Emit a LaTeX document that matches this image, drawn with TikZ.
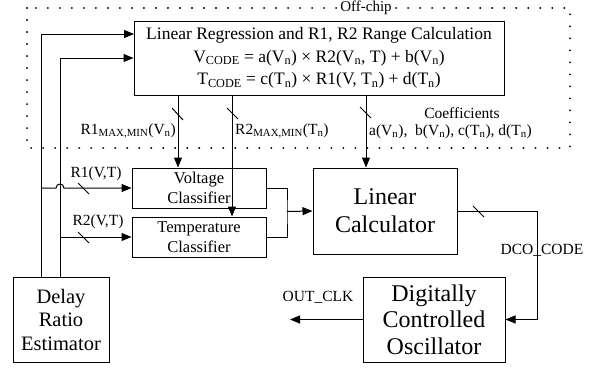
\documentclass[tikz,border=0pt]{standalone}
\usepackage{fontspec}
\setmainfont{Liberation Serif}
\usetikzlibrary{arrows.meta}
\begin{document}
\begin{tikzpicture}[x=1pt,y=-1pt,
  box/.style={draw,line width=1pt,inner sep=0pt,align=center},
  arr/.style={line width=1pt,-{Triangle[length=10pt,width=8pt]}},
  ln/.style={line width=1pt},
  tick/.style={line width=1pt},
  dotline/.style={line width=2.2pt,dash pattern=on 0.01pt off 12pt,line cap=round},
  lbl/.style={inner sep=0pt,font=\fontsize{15.5}{18}\selectfont}]
\useasboundingbox (0,0) rectangle (602,367);
% off-chip region
\draw[dotline] (27,8) rectangle (570,148);
\node[fill=white,inner sep=2pt,font=\fontsize{15}{18}\selectfont] (offchip) at (366,8) {Off-chip};
% blocks
\node[box,minimum width=370pt,minimum height=74pt,font=\fontsize{17.5}{22.5}\selectfont] (lr) at (319,58)
  {Linear Regression and R1, R2 Range Calculation\\
   V\textsubscript{CODE} = a(V\textsubscript{n}) × R2(V\textsubscript{n}, T) + b(V\textsubscript{n})\\
   T\textsubscript{CODE} = c(T\textsubscript{n}) × R1(V, T\textsubscript{n}) + d(T\textsubscript{n})};
\node[box,minimum width=134pt,minimum height=40pt,font=\fontsize{16.5}{20}\selectfont] (vc) at (199,188) {Voltage\\Classifier};
\node[box,minimum width=134pt,minimum height=40pt,font=\fontsize{16.5}{20}\selectfont] (tc) at (199,237) {Temperature\\Classifier};
\node[box,minimum width=144pt,minimum height=86pt,font=\fontsize{24}{28}\selectfont] (lc) at (385,211) {Linear\\Calculator};
\node[box,minimum width=96pt,minimum height=85pt,font=\fontsize{20.5}{23.5}\selectfont] (dre) at (61,319.5) {Delay\\Ratio\\Estimator};
\node[box,minimum width=142pt,minimum height=85pt,font=\fontsize{24}{26.5}\selectfont] (dco) at (434,319.5) {Digitally\\Controlled\\Oscillator};
% helper coordinates
\coordinate (x41) at (41,0);
\coordinate (x60) at (60,0);
\coordinate (x178) at (178,0);
\coordinate (x232) at (232,0);
\coordinate (x366) at (366,0);
\coordinate (top1) at (134,34);
\coordinate (r1s) at (41,188);
\coordinate (r2s) at (60,237);
\coordinate (mj) at (287,211.5);
\coordinate (dc) at (537,211);
\coordinate (out) at (290,319.5);
% connectors from estimator
\draw[arr] (dre.north -| x41) |- (top1);
\draw[arr] (dre.north -| x60) |- (lr.west);
\draw[arr] (r1s) -- (56,188) .. controls (56,182.7) and (64,182.7) .. (64,188) -- (vc.west);
\draw[arr] (r2s) -- (tc.west);
% from regression block
\draw[arr] (lr.south -| x178) -- (vc.north -| x178);
\draw[arr] (lr.south -| x232) -- (tc.north -| x232);
\draw[arr] (lr.south -| x366) -- (lc.north -| x366);
% classifier merge
\draw[ln] (vc.east) -| (mj) |- (tc.east);
\draw[arr] (mj) -- (lc.west);
% calculator to DCO
\draw[arr] (lc.east) -- (dc) |- (dco.east);
\draw[arr] (dco.west) -- (out);
% bus ticks
\draw[tick] (172,108) -- (183,120);
\draw[tick] (227,108) -- (238,119);
\draw[tick] (360,107) -- (371,118);
\draw[tick] (78,183) -- (89,194);
\draw[tick] (78,232) -- (89,243);
\draw[tick] (473,206) -- (484,217);
% labels
\node[lbl,anchor=east] (l1) at (176,131) {R1\textsubscript{MAX,MIN}(V\textsubscript{n})};
\node[lbl,anchor=west] (l2) at (235,131) {R2\textsubscript{MAX,MIN}(T\textsubscript{n})};
\node[lbl] (l3) at (462,113) {Coefficients};
\node[lbl,anchor=west] (l4) at (369,132) {a(V\textsubscript{n}),\ \ b(V\textsubscript{n}), c(T\textsubscript{n}), d(T\textsubscript{n})};
\node[lbl] (l5) at (96,174) {R1(V,T)};
\node[lbl] (l6) at (98,222) {R2(V,T)};
\node[lbl] (l7) at (542,250) {DCO\_CODE};
\node[lbl] (l8) at (318,297) {OUT\_CLK};
\end{tikzpicture}
\end{document}
